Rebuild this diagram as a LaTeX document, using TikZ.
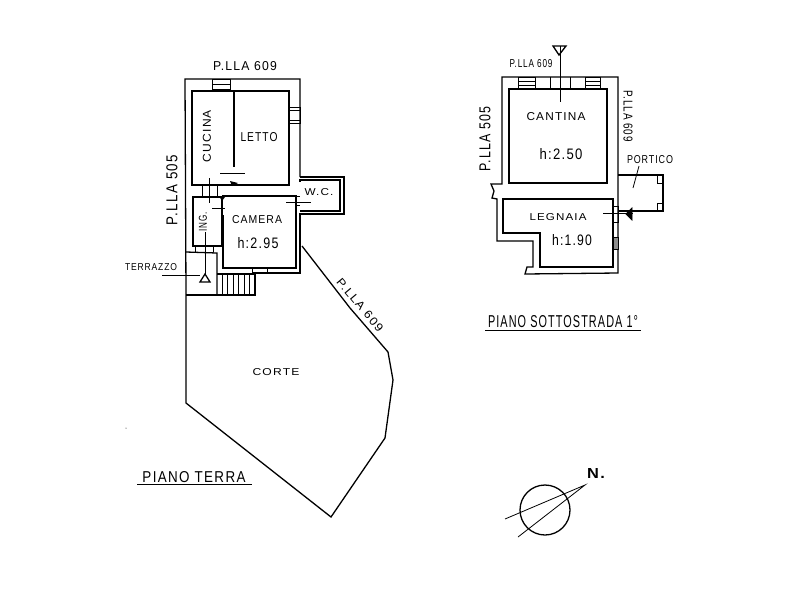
\documentclass[tikz,border=0pt]{standalone}
\usepackage{fontspec}
\usepackage{graphicx}
\setmainfont[LetterSpace=10]{Liberation Sans}
\newcommand{\fitlab}[3]{\resizebox{#1pt}{#2pt}{#3}}
\tikzset{
  wall/.style={line width=1.3pt,line join=miter},
  thin/.style={line width=.8pt},
  heavy/.style={line width=2.4pt},
  under/.style={line width=1pt},
  lab/.style={inner sep=0pt},
}
\begin{document}
\begin{tikzpicture}[x=1pt,y=-1pt]
\useasboundingbox[fill=white] (0,0) rectangle (800,600);
% --- Piano terra: outer walls and court
\draw[wall] (300,177) -- (300,79) -- (185,79) -- (186,295) -- (186,403) -- (331,517) -- (385,438) -- (393,380) -- (388,352) -- (350,308) -- (302,246);
\draw[wall] (300,177) -- (344,177) -- (344,214) -- (300,214) -- (300,273) -- (252,273);
% rooms
\draw[wall] (192,91) rectangle (289,185);
\draw[wall] (300,182) -- (300,180) -- (340,180) -- (340,211) -- (300,211);
\draw[wall] (222,196) -- (296,196) -- (296,268) -- (223,268) -- (223,215);
\draw[wall] (193,197) rectangle (222,246);
\draw[heavy] (234,91) -- (234,167);
\draw[heavy] (222,215) -- (222,245);
\draw[heavy] (318,211) -- (329,211);
\draw[thin] (220,173) -- (245,173);
\draw[thin] (212,208) -- (225,208);
\fill (230,181) -- (238,183) -- (232,186) -- cycle;
\fill (219,196) -- (225,197) -- (222,201) -- cycle;
% windows and doors
\draw[thin] (212,79) rectangle (230,91) (212,84) -- (230,84) (212,89) -- (230,89);
\draw[thin] (289,107) rectangle (300,123) (289,110) -- (300,110) (289,120) -- (300,120);
\draw[thin] (202,185) -- (202,197) (217,185) -- (217,197) (209,178) -- (209,203);
\draw[thin] (195,246) -- (195,252) (213,246) -- (213,252);
\draw[thin] (296,196) -- (300,196) (296,205) -- (300,205) (286,202) -- (311,202);
\draw[thin] (252,268) rectangle (267,273);
% section mark
\draw[thin] (205,232) -- (205,274);
\draw[wall] (200,282) -- (210,282) -- (205,274) -- cycle;
\draw[thin] (162,275) -- (200,275);
% terrace and stairs
\draw[wall] (186,252) -- (217,253) -- (217,295);
\draw[wall] (186,295) -- (255,295) -- (255,274) -- (217,274);
\foreach \sx in {222,227,233,238,244,249} \draw[thin] (\sx,275) -- (\sx,295);
% --- Piano sottostrada: walls
\draw[wall] (502,184) -- (502,77) -- (618,77) -- (618,273) -- (525,274) -- (527,267) -- (533,267) -- (533,241) -- (497,241) -- (497,199) -- (492,198) -- (494,191) -- (491,184) -- cycle;
\draw[wall] (509,89) rectangle (607,183);
\draw[wall] (503,199) -- (613,199) -- (613,267) -- (540,267) -- (540,233) -- (503,233) -- cycle;
% windows
\draw[thin] (518,77) rectangle (535,89) (518,81) -- (535,81) (518,85) -- (535,85);
\draw[thin] (585,77) rectangle (600,89) (585,81) -- (600,81) (585,85) -- (600,85);
\draw[thin] (550,77) -- (550,89) (570,77) -- (570,89);
\draw[thin] (613,206) rectangle (618,222) (613,213) -- (618,213);
\draw[thin,fill=black!45] (613,237) rectangle (618,249);
% section mark top
\draw[thin] (560,46) -- (560,102);
\draw[wall] (553,46) -- (566,46) -- (559,55) -- cycle;
% portico
\draw[wall] (618,175) -- (663,175) -- (663,211) -- (618,211);
\draw[thin] (657,175) -- (657,183) -- (663,183) (657,211) -- (657,203) -- (663,203);
\draw[thin] (603,213) -- (633,213);
\draw[thin,fill=black] (632,208) -- (632,220) -- (626,214) -- cycle;
% titles
\node[lab] (t1) at (194,477) {\fitlab{103}{11}{PIANO TERRA}};
\node[lab] (t2) at (563,322) {\fitlab{150}{12}{PIANO SOTTOSTRADA 1°}};
\draw[under] (137,484) -- (252,484);
\draw[under] (485,330) -- (641,330);
% compass
\draw[wall] (545,510) circle (25);
\draw[thin] (505,519) -- (585,485) -- (518,537);
\node[lab] (north) at (596,473) {\fitlab{18}{10}{\bfseries N.}};
\fill (126,428) circle (.5);
% labels
\node[lab] (p1) at (245,66) {\fitlab{64}{9}{P.LLA 609}};
\node[lab] (letto) at (259,137) {\fitlab{37}{9}{LETTO}};
\node[lab,rotate=90] (cucina) at (207,136) {\fitlab{52}{8}{CUCINA}};
\node[lab,rotate=90] (p505a) at (172,190) {\fitlab{70}{11}{P.LLA 505}};
\node[lab] (camera) at (257,220) {\fitlab{50}{8}{CAMERA}};
\node[lab] (h1) at (258,243) {\fitlab{41}{11}{h:2.95}};
\node[lab,rotate=90] (ing) at (203,222) {\fitlab{19}{8}{ING.}};
\node[lab] (wc) at (319,192) {\fitlab{29}{7}{W.C.}};
\node[lab] (terr) at (151,267) {\fitlab{52}{7}{TERRAZZO}};
\node[lab,rotate=-50] (p609d) at (360,305) {\fitlab{66}{8}{P.LLA 609}};
\node[lab] (corte) at (276,372) {\fitlab{47}{7}{CORTE}};
\node[lab] (p2) at (531,64) {\fitlab{43}{8}{P.LLA 609}};
\node[lab] (cantina) at (556,117) {\fitlab{59}{8}{CANTINA}};
\node[lab] (h2) at (561,154) {\fitlab{43}{11}{h:2.50}};
\node[lab,rotate=90] (p505b) at (485,139) {\fitlab{65}{11}{P.LLA 505}};
\node[lab,rotate=-90] (p609r) at (628,116) {\fitlab{52}{9}{P.LLA 609}};
\node[lab] (port) at (650,160) {\fitlab{46}{8}{PORTICO}};
\node[lab] (legn) at (558,217) {\fitlab{57}{7}{LEGNAIA}};
\node[lab] (h3) at (572,240) {\fitlab{40}{11}{h:1.90}};
\draw[thin] (639,166) -- (633,188);
\end{tikzpicture}
\end{document}
